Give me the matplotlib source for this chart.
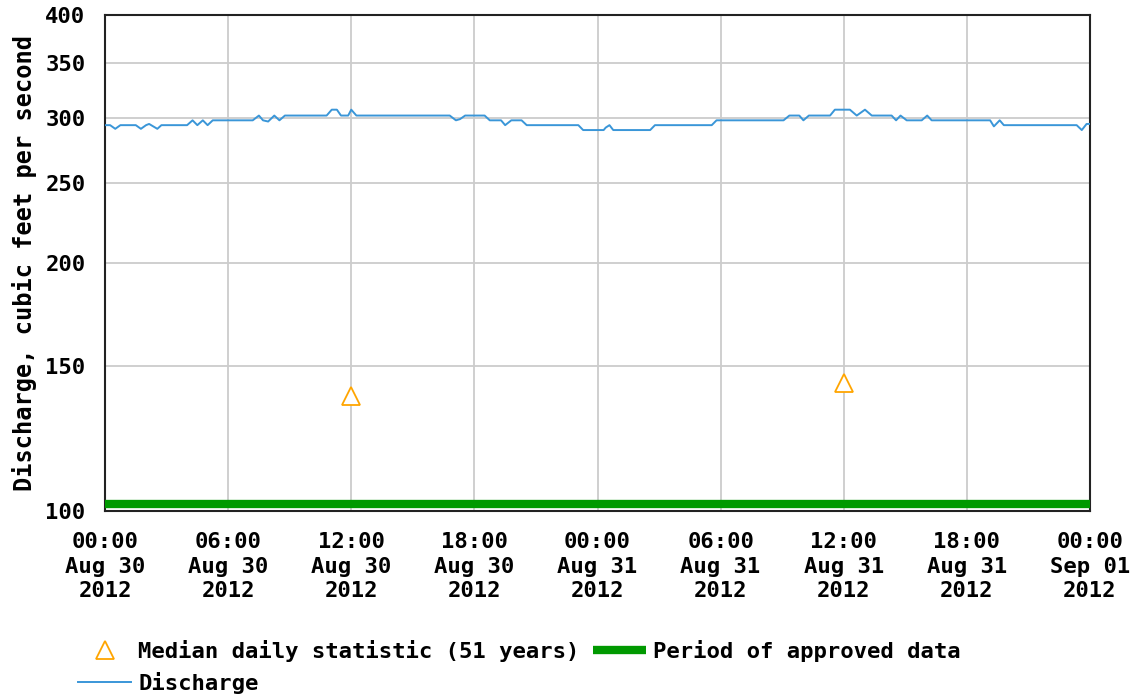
import numpy as np
import matplotlib
matplotlib.use("Agg")
import matplotlib.pyplot as plt
from matplotlib.ticker import FixedLocator, NullLocator

# discharge readings (hours since 2012-08-30 00:00, cfs)
hours = [0, 0.25, 0.5, 0.75, 1.5, 1.75, 2.0, 2.15, 2.55, 2.75, 4.0, 4.27, 4.5, 4.76,
         5.0, 5.25, 7.2, 7.5, 7.7, 7.95, 8.25, 8.5, 8.77, 10.8, 11.05, 11.3, 11.5,
         11.85, 12.0, 12.25, 16.8, 17.1, 17.3, 17.55, 18.5, 18.75, 19.3, 19.5, 19.8,
         20.3, 20.55, 23.07, 23.3, 24.3, 24.4, 24.58, 24.77, 26.56, 26.8, 29.57, 29.8,
         33.06, 33.35, 33.84, 34.03, 34.3, 35.33, 35.57, 36.3, 36.63, 37.04, 37.36,
         38.34, 38.55, 38.77, 39.07, 39.8, 40.07, 40.28, 43.13, 43.32, 43.6, 43.8,
         47.35, 47.6, 47.84, 48.0]
discharge = [294, 294, 291, 294, 294, 291, 294, 295, 291, 294, 294, 298, 294, 298,
             294, 298, 298, 302, 298, 297, 302, 298, 302, 302, 307, 307, 302,
             302, 307, 302, 302, 298, 299, 302, 302, 298, 298, 294, 298,
             298, 294, 294, 290, 290, 292, 294, 290, 290, 294, 294, 298,
             298, 302, 302, 298, 302, 302, 307, 307, 302, 307, 302,
             302, 298, 302, 298, 298, 302, 298, 298, 293, 298, 294,
             294, 290, 295, 295]

median_hours = [12, 36]
median_vals = [138, 143]

approved_hours = [0, 48]
approved_vals = [102, 102]

yticks = [100, 150, 200, 250, 300, 350, 400]
xtick_hours = [0, 6, 12, 18, 24, 30, 36, 42, 48]

start = np.datetime64("2012-08-30T00:00")
def to_dt(h):
    return [(start + np.timedelta64(int(round(x * 60)), "m")).astype("datetime64[m]").tolist() for x in h]

plt.rcParams["font.family"] = "DejaVu Sans Mono"
plt.rcParams["font.weight"] = "bold"
FS = 16

fig = plt.figure(figsize=(11.34, 6.98), dpi=100)
ax = fig.add_axes([105 / 1134, 1 - 511 / 698, 985 / 1134, 496 / 698])

ax.plot(to_dt(approved_hours), approved_vals, color="#009900", lw=6, solid_capstyle="butt",
        clip_on=False, zorder=3, label="Period of approved data")
ax.plot(to_dt(hours), discharge, color="#3a96d8", lw=1.4, zorder=4, label="Discharge")
ax.plot(to_dt(median_hours), median_vals, ls="none", marker="^", ms=13, mfc="white",
        mec="#ffa500", mew=1.3, zorder=5, label="Median daily statistic (51 years)")

ax.set_yscale("log")
ax.set_ylim(100, 400)
ax.yaxis.set_major_locator(FixedLocator(yticks))
ax.yaxis.set_minor_locator(NullLocator())
ax.set_yticklabels([str(v) for v in yticks], fontsize=FS, fontweight="bold")

xt = to_dt(xtick_hours)
ax.set_xlim(xt[0], xt[-1])
ax.set_xticks(xt)
ax.set_xticklabels([d.strftime("%H:%M\n%b %d\n%Y") for d in xt], fontsize=FS,
                   fontweight="bold", linespacing=1.3)
ax.tick_params(axis="x", length=0, pad=15)
ax.tick_params(axis="y", length=0, pad=14)

ax.grid(True, color="#cccccc", lw=1.3)
ax.set_axisbelow(True)
for s in ax.spines.values():
    s.set_linewidth(1.5)
    s.set_color("#222222")

ax.set_ylabel("Discharge, cubic feet per second", fontsize=17, fontweight="bold", labelpad=6)

h, l = ax.get_legend_handles_labels()
order = [2, 1, 0]
fig.legend([h[i] for i in order], [l[i] for i in order], ncol=2, frameon=False,
           loc="upper left", bbox_to_anchor=(78 / 1134, 1 - 640 / 698),
           prop={"family": "DejaVu Sans Mono", "weight": "bold", "size": FS},
           handlelength=2.4, handletextpad=0.3, columnspacing=0.6, labelspacing=0.45,
           borderaxespad=0, borderpad=0)

fig.savefig("out.png", dpi=100)
